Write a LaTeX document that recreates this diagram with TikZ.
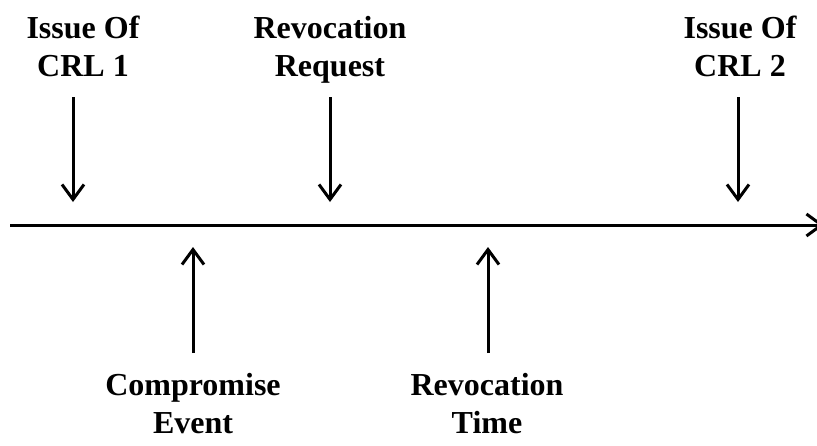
\documentclass[tikz,border=0pt]{standalone}
\usepackage{fontspec}
\setmainfont{Liberation Serif}
\usetikzlibrary{arrows.meta}
\tikzset{
  lbl/.style={font=\fontsize{32}{38}\selectfont\bfseries, align=center, inner sep=0pt, anchor=north},
  evt/.style={line width=3pt, -{Straight Barb[length=15pt,width=22pt,line width=3pt]}},
}
\begin{document}
\begin{tikzpicture}[x=1pt,y=-1pt]
\useasboundingbox (0,0) rectangle (817,445);
% time axis
\coordinate (t0) at (10,225);
\coordinate (t1) at (824,225);
\draw[evt] (t0) -- (t1);
% events above the axis
\node[lbl] (crl1) at (83,16) {Issue Of\\CRL 1};
\node[lbl] (req) at (330,16) {Revocation\\Request};
\node[lbl] (crl2) at (740,16) {Issue Of\\CRL 2};
\coordinate (crl1s) at (73,97);  \coordinate (crl1e) at (73,202);
\coordinate (reqs) at (330,97);  \coordinate (reqe) at (330,202);
\coordinate (crl2s) at (738,97); \coordinate (crl2e) at (738,202);
\draw[evt] (crl1s) -- (crl1e);
\draw[evt] (reqs) -- (reqe);
\draw[evt] (crl2s) -- (crl2e);
% events below the axis
\node[lbl] (comp) at (193,373) {Compromise\\Event};
\node[lbl] (rtime) at (487,373) {Revocation\\Time};
\coordinate (comps) at (193,353);  \coordinate (compe) at (193,247);
\coordinate (rtimes) at (488,353); \coordinate (rtimee) at (488,247);
\draw[evt] (comps) -- (compe);
\draw[evt] (rtimes) -- (rtimee);
\end{tikzpicture}
\end{document}
